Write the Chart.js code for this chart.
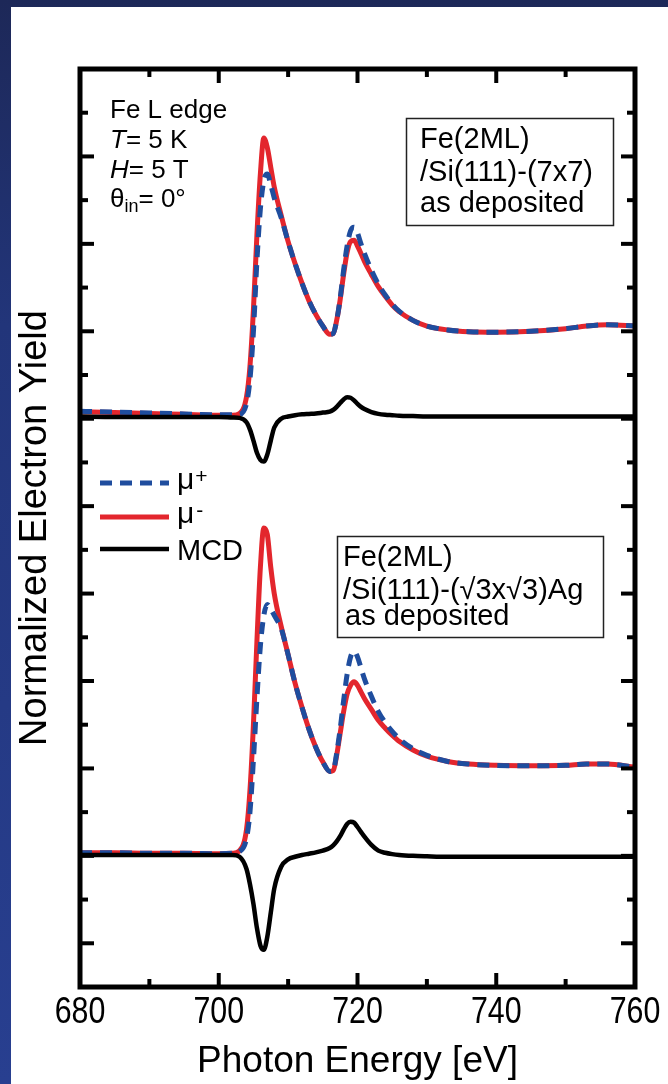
<!DOCTYPE html>
<html><head><meta charset="utf-8">
<script src="https://cdn.jsdelivr.net/npm/chart.js@4.4.1/dist/chart.umd.min.js"></script>
<style>
html,body{margin:0;padding:0;width:668px;height:1084px;overflow:hidden;}
body{background:linear-gradient(180deg,#1d2858 0%,#22357a 30%,#283f90 100%);position:relative;}
#panel{position:absolute;left:11px;top:7px;right:0;bottom:0;background:#fff;}
#c{position:absolute;left:0;top:0;}
</style></head><body>
<div id="panel"></div>
<canvas id="c" width="668" height="1084"></canvas>
<script>
// ---- data ----
const energy = [680,685,690,695,700,702,
  703,704,704.5,705,705.5,706,706.5,707,707.5,708,
  709,710,711,712,713,714,715,716,
  716.5,717,717.5,718,718.5,719,719.5,720,720.5,721,
  722,723,724,725,726,
  728,730,733,736,740,745,750,753,756,760];

const muPlusTop = [13.17,13.15,13.13,13.11,13.09,13.09,
  13.1,13.35,13.9,15.0,16.6,17.8,18.45,18.6,18.35,18.05,
  17.6,17.05,16.55,16.1,15.7,15.38,15.12,14.93,
  14.95,15.25,15.75,16.4,16.95,17.3,17.38,17.25,17.0,16.78,
  16.4,16.08,15.83,15.62,15.46,
  15.25,15.12,15.03,14.99,14.98,15.0,15.06,15.12,15.15,15.12];

const muMinusTop = [13.16,13.14,13.12,13.10,13.08,13.08,
  13.12,13.5,14.2,15.5,17.2,18.6,19.42,19.2,18.75,18.3,
  17.65,17.05,16.55,16.1,15.7,15.38,15.12,14.93,
  14.95,15.25,15.72,16.3,16.8,17.05,17.08,16.95,16.78,16.6,
  16.3,16.02,15.8,15.6,15.45,
  15.25,15.12,15.03,14.99,14.98,15.0,15.06,15.12,15.15,15.12];

const mcdTop = [13.05,13.04,13.04,13.04,13.04,13.03,
  13.02,12.92,12.75,12.5,12.22,12.06,12.02,12.18,12.5,12.8,
  13.0,13.05,13.08,13.1,13.11,13.12,13.14,13.16,
  13.2,13.27,13.36,13.44,13.49,13.48,13.42,13.34,13.27,13.22,
  13.15,13.11,13.09,13.08,13.07,
  13.06,13.05,13.05,13.05,13.05,13.05,13.05,13.05,13.05,13.05];

const muPlusBottom = [3.07,3.07,3.06,3.06,3.05,3.06,
  3.1,3.4,4.0,5.2,6.6,7.8,8.5,8.75,8.65,8.5,
  8.2,7.6,6.95,6.4,5.9,5.48,5.15,4.93,
  4.95,5.35,5.9,6.55,7.15,7.55,7.68,7.55,7.3,7.05,
  6.65,6.3,6.05,5.85,5.68,
  5.45,5.3,5.16,5.1,5.07,5.06,5.07,5.1,5.1,5.03];

const muMinusBottom = [3.07,3.07,3.06,3.06,3.05,3.06,
  3.12,3.6,4.5,6.0,7.9,9.6,10.5,10.35,9.6,9.0,
  8.25,7.6,6.95,6.4,5.9,5.48,5.15,4.93,
  4.95,5.3,5.8,6.3,6.7,6.9,6.98,6.9,6.75,6.6,
  6.35,6.1,5.92,5.76,5.62,
  5.42,5.28,5.16,5.1,5.07,5.06,5.07,5.1,5.1,5.03];

const mcdBottom = [3.02,3.02,3.02,3.02,3.02,3.02,
  2.98,2.7,2.35,1.9,1.35,0.95,0.85,1.15,1.7,2.25,
  2.75,2.92,2.98,3.02,3.05,3.08,3.12,3.18,
  3.24,3.33,3.45,3.6,3.73,3.78,3.76,3.66,3.55,3.44,
  3.25,3.12,3.07,3.04,3.02,
  3.0,2.99,2.98,2.98,2.98,2.98,2.98,2.98,2.98,2.98];

const xTickLabels = [680,700,720,740,760];
const xMajorTicks = [700,720,740];
const xMinorTicks = [690,710,730,750];
const yMajorTicks = [1,3,5,7,9,11,13,15,17,19];
const yMinorTicks = [2,4,6,8,10,12,14,16,18,20];

// ---- styles ----
const F = "'Liberation Sans', Arial, Helvetica, sans-serif";
const RED = '#e3262d', BLUE = '#1f4d9e', BLACK = '#000';

const pts = arr => energy.map((e,i)=>({x:e,y:arr[i]}));
const line = (arr,color,width,dash,order) => ({
  data: pts(arr), borderColor: color, borderWidth: width, borderDash: dash||[],
  pointRadius: 0, fill: false, cubicInterpolationMode: 'monotone', order: order,
  borderCapStyle: 'butt', borderJoinStyle: 'round'
});

function richText(ctx, x, y, parts){
  let cx = x;
  for (const p of parts){
    ctx.font = p.font;
    ctx.fillText(p.t, cx, y + (p.dy||0));
    cx += ctx.measureText(p.t).width + (p.gap||0);
  }
  return cx;
}

const framePlugin = {
  id: 'frame',
  afterDatasetsDraw(chart){
    const {ctx, chartArea:a, scales:{x,y}} = chart;
    ctx.save();
    ctx.strokeStyle = '#000';
    ctx.lineWidth = 5;
    ctx.strokeRect(a.left, a.top, a.right-a.left, a.bottom-a.top);
    ctx.lineWidth = 4;
    const seg=(x1,y1,x2,y2)=>{ctx.beginPath();ctx.moveTo(x1,y1);ctx.lineTo(x2,y2);ctx.stroke();};
    const MJ=14, MN=8;
    xMajorTicks.forEach(v=>{const p=x.getPixelForValue(v); seg(p,a.bottom,p,a.bottom-MJ); seg(p,a.top,p,a.top+MJ);});
    xMinorTicks.forEach(v=>{const p=x.getPixelForValue(v); seg(p,a.bottom,p,a.bottom-MN); seg(p,a.top,p,a.top+MN);});
    yMajorTicks.forEach(v=>{const p=y.getPixelForValue(v); seg(a.left,p,a.left+MJ,p); seg(a.right,p,a.right-MJ,p);});
    yMinorTicks.forEach(v=>{const p=y.getPixelForValue(v); seg(a.left,p,a.left+MN,p); seg(a.right,p,a.right-MN,p);});
    // condensed tick labels placed through the x scale
    ctx.fillStyle = '#000';
    ctx.font = `37px ${F}`;
    ctx.textAlign = 'center';
    ctx.textBaseline = 'alphabetic';
    xTickLabels.forEach(v=>{
      const p = x.getPixelForValue(v);
      ctx.save(); ctx.translate(p, a.bottom + 36); ctx.scale(0.82,1);
      ctx.fillText(String(v),0,0); ctx.restore();
    });
    ctx.restore();
  },
  afterDraw(chart){
    const ctx = chart.ctx;
    ctx.save();
    ctx.fillStyle = '#000';
    ctx.textBaseline = 'alphabetic';
    ctx.textAlign = 'left';
    // top-left conditions
    richText(ctx,110,118,[{t:'Fe L edge',font:`26px ${F}`}]);
    richText(ctx,110,148,[{t:'T',font:`italic 26px ${F}`},{t:'= 5 K',font:`26px ${F}`}]);
    richText(ctx,110,178,[{t:'H',font:`italic 26px ${F}`},{t:'= 5 T',font:`26px ${F}`}]);
    richText(ctx,110,207,[{t:'θ',font:`26px ${F}`},{t:'in',font:`18px ${F}`,dy:5},{t:'= 0°',font:`26px ${F}`}]);
    // box 1
    ctx.strokeStyle = '#222'; ctx.lineWidth = 1.5;
    ctx.strokeRect(406.5,118.5,207,107);
    ctx.font = `29px ${F}`;
    ctx.fillText('Fe(2ML)',420,148);
    ctx.fillText('/Si(111)-(7x7)',420,181);
    ctx.fillText('as deposited',420,212);
    // box 2
    ctx.strokeRect(337.5,536.5,266,101);
    ctx.fillText('Fe(2ML)',343,566);
    ctx.fillText('/Si(111)-(√3x√3)Ag',343,599);
    ctx.fillText('as deposited',345,625);
    // legend
    ctx.lineCap='butt';
    const lg=(yy,color,w,dash)=>{ctx.beginPath();ctx.strokeStyle=color;ctx.lineWidth=w;ctx.setLineDash(dash);ctx.moveTo(100,yy);ctx.lineTo(169,yy);ctx.stroke();};
    lg(483,BLUE,5,[12,8]);
    lg(517,RED,5,[]);
    lg(549,BLACK,4.5,[]);
    ctx.setLineDash([]);
    richText(ctx,177,489,[{t:'μ',font:`30px ${F}`,gap:1},{t:'+',font:`21px ${F}`,dy:-6}]);
    richText(ctx,177,523,[{t:'μ',font:`30px ${F}`,gap:2},{t:'-',font:`21px ${F}`,dy:-6}]);
    ctx.font = `29px ${F}`;
    ctx.fillText('MCD',177,560);
    ctx.restore();
  }
};

Chart.defaults.font.family = F;
Chart.defaults.color = '#000';

new Chart(document.getElementById('c'), {
  type: 'line',
  data: {
    datasets: [
      line(mcdTop, BLACK, 4.5, [], 0),
      line(mcdBottom, BLACK, 4.5, [], 0),
      line(muPlusTop, BLUE, 5, [12,8], 1),
      line(muPlusBottom, BLUE, 5, [12,8], 1),
      line(muMinusTop, RED, 5, [], 2),
      line(muMinusBottom, RED, 5, [], 2)
    ]
  },
  options: {
    responsive: false,
    animation: false,
    devicePixelRatio: 1,
    layout: { padding: { left: 0, right: 33, top: 69, bottom: 0 } },
    plugins: { legend: { display: false }, tooltip: { enabled: false } },
    scales: {
      x: {
        type: 'linear', min: 680, max: 760,
        afterFit: s => { s.height = 97; },
        grid: { display: false, drawTicks: false },
        border: { display: false },
        ticks: { display: false },
        title: { display: true, text: 'Photon Energy [eV]', font: { family: F, size: 37 }, padding: { top: 0, bottom: 0 }, color: '#000' }
      },
      y: {
        type: 'linear', min: 0, max: 21,
        afterFit: s => { s.width = 80; },
        grid: { display: false, drawTicks: false },
        border: { display: false },
        ticks: { display: false },
        title: { display: true, text: 'Normalized Electron Yield', font: { family: F, size: 38 }, padding: { top: 13, bottom: 0 }, color: '#000' }
      }
    }
  },
  plugins: [framePlugin]
});
</script>
</body></html>
